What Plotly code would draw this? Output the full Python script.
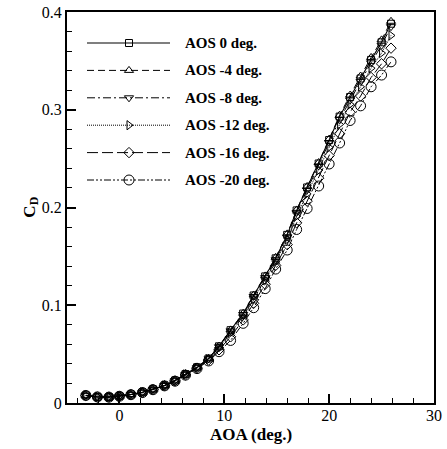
import plotly.graph_objects as go

# ---------------- data ----------------
aoa = [-3.2, -2.1, -1.0, 0.0, 1.1, 2.2, 3.2, 4.3, 5.3, 6.3, 7.4, 8.5, 9.5, 10.6,
       11.8, 12.8, 13.9, 14.9, 16.0, 16.9, 17.9, 19.0, 20.0, 21.0, 22.0, 23.0,
       24.0, 25.0, 25.9]

cd_aos_0 = [0.0078, 0.0062, 0.0061, 0.0070, 0.0087, 0.0110, 0.0140, 0.0180, 0.0230,
            0.0295, 0.0365, 0.0455, 0.0580, 0.0745, 0.0915, 0.1100, 0.1295, 0.1480,
            0.1720, 0.1970, 0.2205, 0.2450, 0.2690, 0.2930, 0.3130, 0.3320, 0.3510,
            0.3690, 0.3880]
cd_aos_m4 = [0.0078, 0.0062, 0.0061, 0.0070, 0.0087, 0.0110, 0.0140, 0.0180, 0.0232,
             0.0296, 0.0366, 0.0457, 0.0582, 0.0748, 0.0918, 0.1105, 0.1300, 0.1490,
             0.1730, 0.1975, 0.2215, 0.2460, 0.2700, 0.2945, 0.3150, 0.3345, 0.3535,
             0.3715, 0.3905]
cd_aos_m8 = [0.0078, 0.0062, 0.0061, 0.0070, 0.0086, 0.0109, 0.0139, 0.0179, 0.0229,
             0.0293, 0.0362, 0.0452, 0.0575, 0.0738, 0.0905, 0.1090, 0.1282, 0.1465,
             0.1700, 0.1950, 0.2180, 0.2425, 0.2665, 0.2900, 0.3100, 0.3290, 0.3480,
             0.3660, 0.3850]
cd_aos_m12 = [0.0078, 0.0062, 0.0061, 0.0070, 0.0086, 0.0109, 0.0139, 0.0178, 0.0228,
              0.0292, 0.0361, 0.0447, 0.0563, 0.0715, 0.0885, 0.1063, 0.1258, 0.1445,
              0.1673, 0.1910, 0.2140, 0.2380, 0.2615, 0.2850, 0.3055, 0.3235, 0.3425,
              0.3580, 0.3760]
cd_aos_m16 = [0.0077, 0.0062, 0.0061, 0.0069, 0.0086, 0.0108, 0.0138, 0.0177, 0.0226,
              0.0289, 0.0357, 0.0439, 0.0544, 0.0677, 0.0850, 0.1020, 0.1215, 0.1408,
              0.1620, 0.1843, 0.2065, 0.2300, 0.2530, 0.2755, 0.2975, 0.3140, 0.3330,
              0.3470, 0.3630]
cd_aos_m20 = [0.0077, 0.0062, 0.0060, 0.0069, 0.0085, 0.0107, 0.0136, 0.0175, 0.0223,
              0.0285, 0.0352, 0.0430, 0.0525, 0.0640, 0.0815, 0.0975, 0.1170, 0.1370,
              0.1565, 0.1775, 0.1990, 0.2220, 0.2445, 0.2660, 0.2890, 0.3040, 0.3235,
              0.3355, 0.3490]

series_names = ["AOS 0 deg.", "AOS -4 deg.", "AOS -8 deg.", "AOS -12 deg.",
                "AOS -16 deg.", "AOS -20 deg."]
series_values = [cd_aos_0, cd_aos_m4, cd_aos_m8, cd_aos_m12, cd_aos_m16, cd_aos_m20]

x_tick_vals = [0, 10, 20, 30]
x_tick_text = ["0", "10", "20", "30"]
y_tick_vals = [0, 0.1, 0.2, 0.3, 0.4]
y_tick_text = ["0", "0.1", "0.2", "0.3", "0.4"]

# ---------------- styles ----------------
symbols = ["square-open", "triangle-up-open", "triangle-down-open",
           "triangle-right-open", "diamond-open", "circle-open"]
msizes = [7, 8, 8, 8, 8, 10]
dashes = ["solid", "7px,4px", "8px,3px,2px,3px", "1px,1px", "11px,4px",
          "7px,2px,2px,2px,2px,2px"]
line_w = [1.1, 1.0, 1.0, 1.0, 1.0, 1.0]

FONT = "Liberation Serif"

fig = go.Figure()

for name, vals, sym, ms, dsh, lw in zip(series_names, series_values, symbols,
                                         msizes, dashes, line_w):
    fig.add_trace(go.Scatter(
        x=aoa, y=vals, name=name, mode="lines+markers",
        line=dict(color="black", width=lw, dash=dsh),
        marker=dict(symbol=sym, size=ms, color="black",
                    line=dict(color="black", width=1)),
        showlegend=False, xaxis="x", yaxis="y"))

# ---------------- custom legend (pixel coordinates on overlay axes) ----------------
PX_L, PX_R, PX_T, PX_B = 67, 434, 12, 403
leg_x0, leg_x1, leg_xm, txt_x = 87, 170, 129, 183
for i, (name, sym, ms, dsh, lw) in enumerate(zip(series_names, symbols, msizes,
                                                  dashes, line_w)):
    ry = 43 + 27.4 * i
    fig.add_trace(go.Scatter(
        x=[leg_x0, leg_x1], y=[ry, ry], mode="lines",
        line=dict(color="black", width=lw, dash=dsh),
        showlegend=False, hoverinfo="skip", xaxis="x2", yaxis="y2"))
    fig.add_trace(go.Scatter(
        x=[leg_xm], y=[ry], mode="markers",
        marker=dict(symbol=sym, size=ms, color="black",
                    line=dict(color="black", width=1)),
        showlegend=False, hoverinfo="skip", xaxis="x2", yaxis="y2"))
    fig.add_annotation(x=txt_x, y=ry, xref="x2", yref="y2", text="<b>%s</b>" % name,
                       showarrow=False, xanchor="left", yanchor="middle",
                       font=dict(family=FONT, size=15, color="black"))

axis_common = dict(showgrid=False, zeroline=False, showline=True, linecolor="black",
                   linewidth=2, mirror=True, ticks="inside", tickcolor="black",
                   tickwidth=1.5, ticklen=9, automargin=False,
                   tickfont=dict(family=FONT, size=16, color="black"))

fig.update_layout(
    width=447, height=449,
    margin=dict(l=PX_L, r=447 - PX_R, t=PX_T, b=449 - PX_B, autoexpand=False),
    paper_bgcolor="white", plot_bgcolor="white",
    showlegend=False,
    xaxis=dict(range=[-5, 30], tickmode="array", tickvals=x_tick_vals,
               ticktext=x_tick_text, ticklabelstandoff=-3,
               minor=dict(dtick=2, tick0=0, ticks="inside", ticklen=5,
                          tickwidth=1, tickcolor="black"),
               **axis_common),
    yaxis=dict(range=[0, 0.4], tickmode="array", tickvals=y_tick_vals,
               ticktext=y_tick_text,
               minor=dict(dtick=0.02, tick0=0, ticks="inside", ticklen=5,
                          tickwidth=1, tickcolor="black"),
               **axis_common),
    xaxis2=dict(range=[PX_L, PX_R], overlaying="x", anchor="y2", visible=False,
                fixedrange=True, automargin=False),
    yaxis2=dict(range=[PX_B, PX_T], overlaying="y", anchor="x2", visible=False,
                fixedrange=True, automargin=False),
)

# axis titles
fig.add_annotation(x=0.5, y=-0.05, xref="paper", yref="paper", yanchor="top",
                   text="<b>AOA (deg.)</b>", showarrow=False,
                   font=dict(family=FONT, size=17, color="black"))
fig.add_annotation(x=-0.065, y=0.5, xref="paper", yref="paper", xanchor="right",
                   text="<b>C<sub>D</sub></b>", showarrow=False, textangle=-90,
                   font=dict(family=FONT, size=17, color="black"))

fig.write_html("out.html")
